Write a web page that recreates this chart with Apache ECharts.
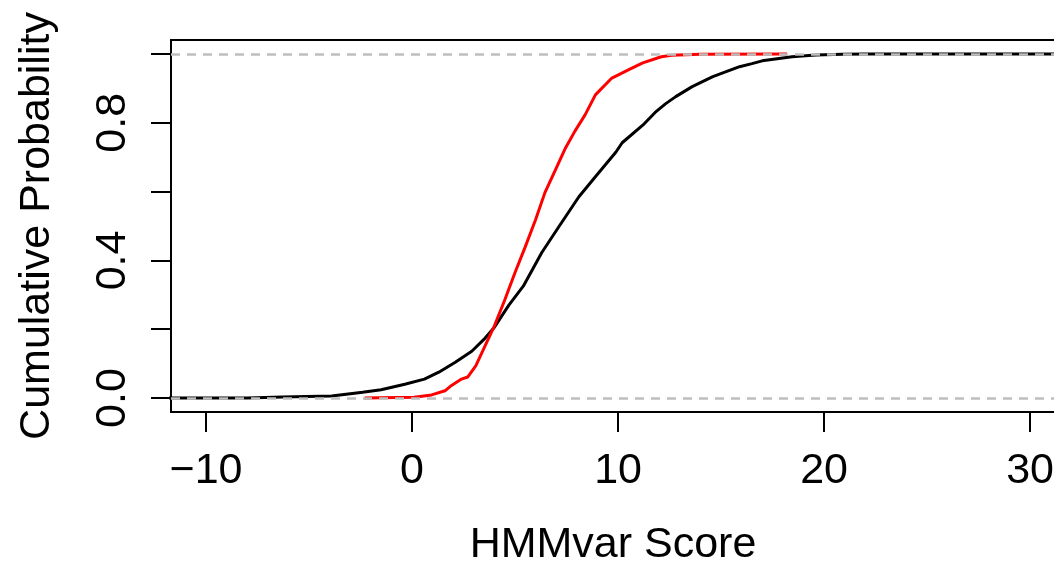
<!DOCTYPE html>
<html>
<head>
<meta charset="utf-8">
<script src="https://cdn.jsdelivr.net/npm/echarts@6/dist/echarts.min.js"></script>
<style>html,body{margin:0;padding:0;background:#fff}#c{width:1054px;height:562px}</style>
</head>
<body>
<div id="c"></div>
<script>
// ---- data ----
var blackX = [-13, -8, -6.3, -3.9, -2.4, -1.5, -0.35, 0.6, 1.3, 2.1, 2.9, 3.5, 4.0, 4.7, 5.4, 6.3, 7.15, 8.1, 8.9, 9.9, 10.2, 11.2, 11.8, 12.3, 12.8, 13.6, 14.6, 15.9, 16.5, 17.0, 18.45, 19.6, 20.9, 22, 40];
var blackY = [0, 0, 0.003, 0.006, 0.017, 0.024, 0.04, 0.055, 0.075, 0.104, 0.136, 0.171, 0.206, 0.27, 0.325, 0.423, 0.5, 0.585, 0.643, 0.715, 0.742, 0.793, 0.83, 0.855, 0.876, 0.905, 0.934, 0.963, 0.972, 0.98, 0.992, 0.997, 0.999, 1, 1];
var redX = [-2.3, 0.1, 0.95, 1.6, 1.9, 2.4, 2.7, 3.1, 3.55, 4.0, 4.5, 5.0, 5.5, 6.0, 6.45, 6.95, 7.45, 7.9, 8.4, 8.9, 9.7, 10.5, 11.2, 12.1, 12.6, 14, 18.2];
var redY = [0, 0.002, 0.009, 0.021, 0.036, 0.055, 0.061, 0.094, 0.152, 0.21, 0.285, 0.365, 0.44, 0.519, 0.597, 0.662, 0.727, 0.775, 0.823, 0.881, 0.93, 0.954, 0.974, 0.992, 0.996, 0.999, 1];
var refLines = [0, 1];
var xTickValues = [-10, 0, 10, 20, 30];
var xTickLabels = ['\u221210', '0', '10', '20', '30'];
var yTickValues = [0, 0.2, 0.4, 0.6, 0.8, 1.0];
var yLabelValues = [0, 0.4, 0.8];
var yLabelTexts = ['0.0', '0.4', '0.8'];
var xTitle = 'HMMvar Score';
var yTitle = 'Cumulative Probability';

function zip(a, b) { return a.map(function (v, i) { return [v, b[i]]; }); }

var FONT = "'Liberation Sans', Arial, Helvetica, sans-serif";
var chart = echarts.init(document.getElementById('c'), null, { renderer: 'canvas' });
chart.setOption({
  animation: false,
  backgroundColor: '#fff',
  grid: { left: 171, top: 40, width: 884, height: 372, show: true, borderColor: '#000', borderWidth: 2, backgroundColor: 'transparent', containLabel: false, outerBoundsMode: 'none' },
  xAxis: {
    type: 'value', min: -11.7, max: 31.21,
    axisLine: { show: false, onZero: false },
    splitLine: { show: false },
    axisTick: { show: true, length: 20, lineStyle: { color: '#000', width: 2 }, customValues: xTickValues },
    axisLabel: {
      show: true, margin: 38, color: '#000', fontSize: 43, fontFamily: FONT,
      customValues: xTickValues,
      formatter: function (v) { var i = xTickValues.indexOf(v); return i >= 0 ? xTickLabels[i] : ''; }
    },
    name: xTitle, nameLocation: 'middle', nameGap: 112,
    nameTextStyle: { color: '#000', fontSize: 43, fontFamily: FONT }
  },
  yAxis: {
    type: 'value', min: -0.0406, max: 1.0406,
    axisLine: { show: false, onZero: false },
    splitLine: { show: false },
    axisTick: { show: true, length: 20, lineStyle: { color: '#000', width: 2 }, customValues: yTickValues },
    axisLabel: {
      show: true, rotate: 90, margin: 36, color: '#000', fontSize: 43, fontFamily: FONT,
      customValues: yLabelValues,
      formatter: function (v) {
        for (var i = 0; i < yLabelValues.length; i++) { if (Math.abs(yLabelValues[i] - v) < 1e-9) return yLabelTexts[i]; }
        return '';
      }
    },
    name: yTitle, nameLocation: 'middle', nameGap: 112, nameRotate: 90,
    nameTextStyle: { color: '#000', fontSize: 43, fontFamily: FONT }
  },
  series: [
    { type: 'line', data: zip(blackX, blackY), symbol: 'none', clip: true, z: 2,
      lineStyle: { color: '#000', width: 3 } },
    { type: 'line', data: zip(redX, redY), symbol: 'none', clip: true, z: 3,
      lineStyle: { color: '#ff0000', width: 3 } },
    { type: 'line', data: [], symbol: 'none', z: 5,
      markLine: { silent: true, symbol: ['none', 'none'], label: { show: false },
        lineStyle: { color: '#bebebe', width: 2.5, type: [9, 7] },
        data: refLines.map(function (v) { return { yAxis: v }; }) } }
  ]
});
</script>
</body>
</html>
